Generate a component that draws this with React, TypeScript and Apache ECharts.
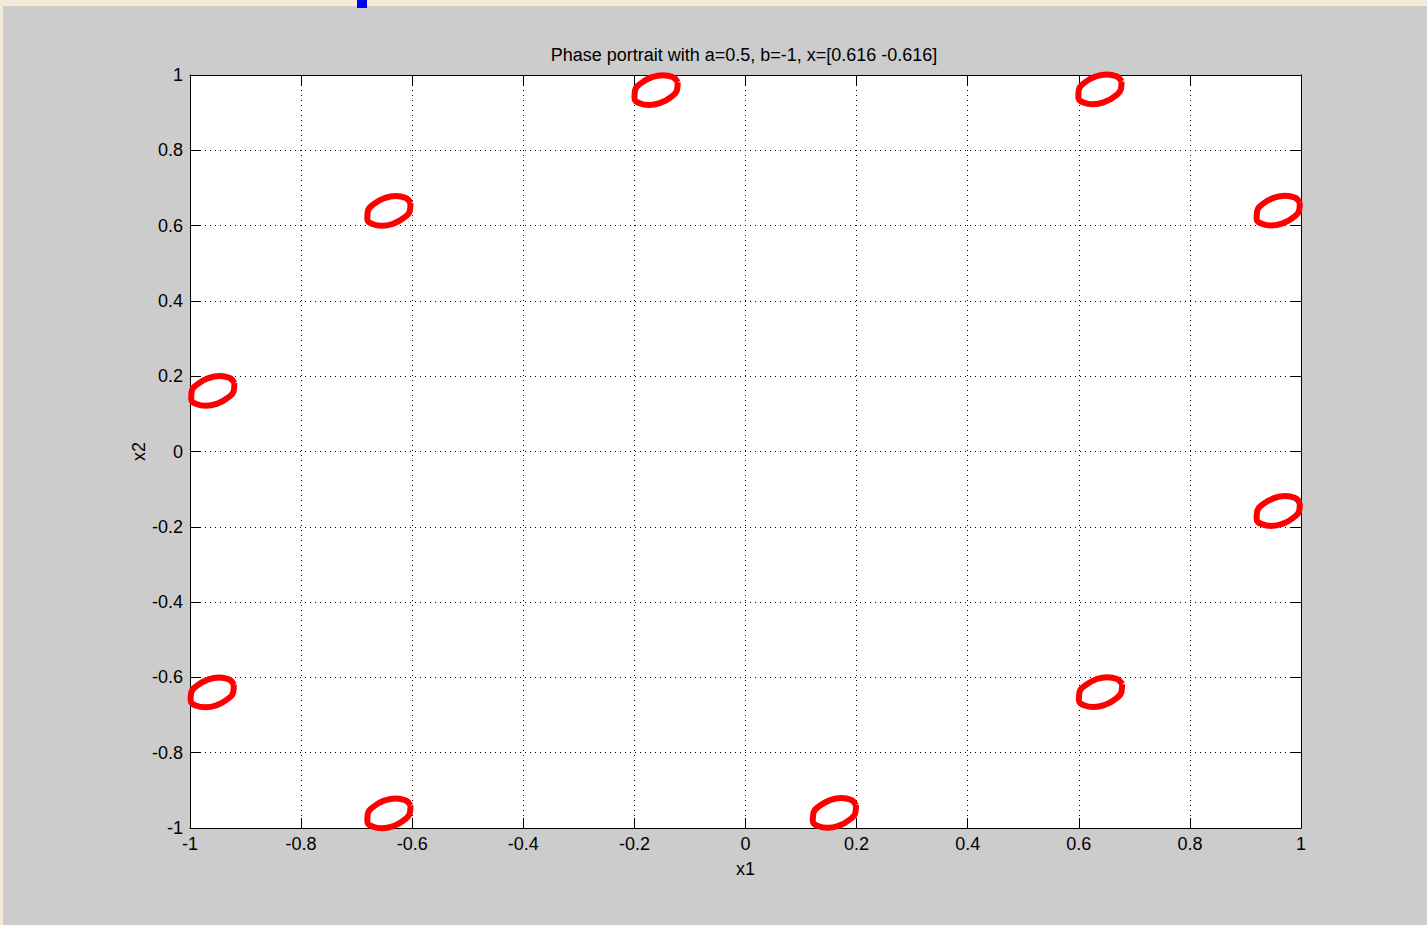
import React, { useEffect, useRef } from "react";
import * as echarts from "echarts";

// Text of the figure
const titleText = "Phase portrait with a=0.5, b=-1, x=[0.616 -0.616]";
const xAxisName = "x1";
const yAxisName = "x2";

// Axis ticks (both axes share them)
const tickValues = [-1, -0.8, -0.6, -0.4, -0.2, 0, 0.2, 0.4, 0.6, 0.8, 1];
const tickLabels = ["-1", "-0.8", "-0.6", "-0.4", "-0.2", "0", "0.2", "0.4", "0.6", "0.8", "1"];

// Centres (x1, x2) of the ten small closed orbits
const loopCenters: [number, number][] = [
  [-0.161, 0.96],
  [0.638, 0.962],
  [-0.642, 0.639],
  [0.959, 0.64],
  [-0.959, 0.161],
  [0.959, -0.158],
  [-0.96, -0.64],
  [0.639, -0.639],
  [-0.642, -0.961],
  [0.16, -0.96],
];

// Outline of one orbit, as offsets (dx1, dx2) from its centre, closed
const loopOutline: [number, number][] = [
  [0.0389, 0.0209],
  [0.0296, 0.0349],
  [0.0123, 0.0396],
  [-0.0083, 0.0337],
  [-0.0267, 0.0187],
  [-0.0379, -0.0012],
  [-0.0389, -0.0209],
  [-0.0296, -0.0349],
  [-0.0123, -0.0396],
  [0.0083, -0.0337],
  [0.0267, -0.0187],
  [0.0379, 0.0012],
  [0.0389, 0.0209],
];

const FONT = "'Liberation Sans', Arial, Helvetica, sans-serif";
const TEXT_COLOR = "#000000";
const AXIS_COLOR = "#000000";
const ORBIT_COLOR = "#ff0000";

const tickFormatter = (v: number) => {
  const i = tickValues.findIndex((t) => Math.abs(t - v) < 1e-6);
  return i >= 0 ? tickLabels[i] : "";
};

export default function App() {
  const ref = useRef<HTMLDivElement>(null);

  useEffect(() => {
    if (!ref.current) return;
    const chart = echarts.init(ref.current, undefined, { renderer: "svg" });

    const axisCommon = {
      type: "value" as const,
      min: -1,
      max: 1,
      interval: 0.2,
      axisLine: { show: true, onZero: false, lineStyle: { color: AXIS_COLOR, width: 1 } },
      axisTick: { show: true, inside: true, length: 10, lineStyle: { color: AXIS_COLOR, width: 1 } },
    };

    const series = loopCenters.map(([cx, cy], k) => ({
      name: "orbit " + (k + 1),
      type: "line" as const,
      xAxisIndex: 0,
      yAxisIndex: 0,
      data: loopOutline.map(([dx, dy]) => [cx + dx, cy + dy]),
      smooth: 0.5,
      symbol: "none",
      clip: false,
      lineStyle: { color: ORBIT_COLOR, width: 6 },
      z: 5,
    }));

    chart.setOption({
      animation: false,
      backgroundColor: "#cccccc",
      grid: {
        left: 190,
        right: 126,
        top: 75,
        bottom: 97,
        show: true,
        backgroundColor: "#ffffff",
        borderWidth: 0,
      },
      xAxis: [
        {
          ...axisCommon,
          position: "bottom",
          axisLabel: {
            show: true,
            color: TEXT_COLOR,
            fontSize: 18,
            fontFamily: FONT,
            margin: 7,
            formatter: tickFormatter,
          },
          splitLine: { show: true, lineStyle: { color: "#000000", width: 1, type: [1, 4] } },
          name: xAxisName,
          nameLocation: "middle",
          nameGap: 32,
          nameMoveOverlap: false,
          nameTextStyle: { color: TEXT_COLOR, fontSize: 18, fontFamily: FONT },
        },
        {
          ...axisCommon,
          position: "top",
          axisLabel: { show: false },
          splitLine: { show: false },
        },
      ],
      yAxis: [
        {
          ...axisCommon,
          position: "left",
          axisLabel: {
            show: true,
            color: TEXT_COLOR,
            fontSize: 18,
            fontFamily: FONT,
            margin: 7,
            formatter: tickFormatter,
          },
          splitLine: { show: true, lineStyle: { color: "#000000", width: 1, type: [1, 4] } },
          name: yAxisName,
          nameLocation: "middle",
          nameRotate: 90,
          nameGap: 42,
          nameMoveOverlap: false,
          nameTextStyle: { color: TEXT_COLOR, fontSize: 18, fontFamily: FONT },
        },
        {
          ...axisCommon,
          position: "right",
          axisLabel: { show: false },
          splitLine: { show: false },
        },
      ],
      graphic: [
        // pale frame strips along the top and left edges
        { type: "rect", left: 0, top: 0, shape: { width: 1427, height: 6 }, style: { fill: "#f4ecd8" }, z: 0 },
        { type: "rect", left: 0, top: 0, shape: { width: 3, height: 925 }, style: { fill: "#f4ecd8" }, z: 0 },
        // small blue marker at the top edge
        { type: "rect", left: 357, top: 0, shape: { width: 10, height: 8 }, style: { fill: "#0000ff" }, z: 1 },
        {
          type: "text",
          x: 744,
          y: 54.5,
          style: {
            text: titleText,
            align: "center",
            verticalAlign: "middle",
            fontSize: 18,
            fontFamily: FONT,
            fill: TEXT_COLOR,
          },
          z: 10,
        },
      ],
      series,
    });

    return () => chart.dispose();
  }, []);

  return (
    <div
      ref={ref}
      style={{ position: "fixed", left: 0, top: 0, width: 1427, height: 925 }}
    />
  );
}
